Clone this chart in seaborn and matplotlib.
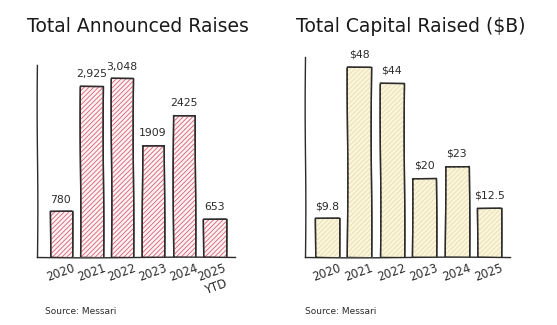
import matplotlib
matplotlib.use("Agg")
import matplotlib.pyplot as plt
import seaborn as sns
import pandas as pd

# Data
years_raises = ["2020", "2021", "2022", "2023", "2024", "2025\nYTD"]
raises = [780, 2925, 3048, 1909, 2425, 653]
raise_labels = ["780", "2,925", "3,048", "1909", "2425", "653"]

years_capital = ["2020", "2021", "2022", "2023", "2024", "2025"]
capital = [9.8, 48, 44, 20, 23, 12.5]
capital_labels = ["$9.8", "$48", "$44", "$20", "$23", "$12.5"]

sns.set_theme(style="white")
plt.xkcd(scale=0.35, length=200, randomness=1)
plt.rcParams["font.family"] = ["DejaVu Sans"]
plt.rcParams["path.effects"] = []
plt.rcParams["axes.linewidth"] = 1.0
plt.rcParams["hatch.linewidth"] = 0.6

fig = plt.figure(figsize=(5.57, 3.25), dpi=100)
fig.patch.set_facecolor("white")

ink = "#2b2b2b"

def panel(rect, cats, vals, labels, face, hatch_col, ymax, xlim, width,
          title, title_x):
    ax = fig.add_axes(rect)
    df = pd.DataFrame({"cat": cats, "val": vals})
    sns.barplot(data=df, x="cat", y="val", ax=ax, color=face,
                edgecolor=ink, linewidth=1.0, width=width, saturation=1)
    for p in ax.patches:
        p.set_edgecolor(ink)
        p.set_facecolor(face)
    # coloured hatching and outline on top of the filled bars
    for i, v in enumerate(vals):
        ax.bar(i, v, width=width, facecolor="none", edgecolor=hatch_col,
               hatch="///////", linewidth=0)
        ax.bar(i, v, width=width, facecolor="none", edgecolor=ink, linewidth=1.0)
    for i, (v, t) in enumerate(zip(vals, labels)):
        ax.text(i, v + ymax * 0.035, t, ha="center", va="bottom",
                fontsize=7.8, color=ink)
    ax.set_ylim(0, ymax)
    ax.set_xlim(*xlim)
    ax.set_xlabel("")
    ax.set_ylabel("")
    ax.set_yticks([])
    ax.tick_params(axis="x", length=0, pad=3, labelsize=8.3, colors=ink)
    for lab in ax.get_xticklabels():
        lab.set_rotation(20)
        lab.set_ha("center")
        lab.set_va("top")
    ax.spines["top"].set_visible(False)
    ax.spines["right"].set_visible(False)
    ax.spines["left"].set_color(ink)
    ax.spines["bottom"].set_color(ink)
    ax.set_facecolor("none")
    fig.text(title_x, 0.92, title, ha="center", va="center",
             fontsize=13.5, color="#1a1a1a")
    return ax

panel([0.066, 0.209, 0.356, 0.59], years_raises, raises, raise_labels,
      "#fdf1f3", "#d8606f", 3270, (-0.78, 5.67), 0.72,
      "Total Announced Raises", 0.248)
panel([0.548, 0.209, 0.368, 0.616], years_capital, capital, capital_labels,
      "#fbf5dc", "#e8dcae", 50.5, (-0.66, 5.65), 0.74,
      "Total Capital Raised ($B)", 0.738)

fig.text(0.08, 0.042, "Source: Messari", fontsize=6.5, color=ink, va="center")
fig.text(0.548, 0.042, "Source: Messari", fontsize=6.5, color=ink, va="center")

fig.savefig("out.png", dpi=100, facecolor="white")
